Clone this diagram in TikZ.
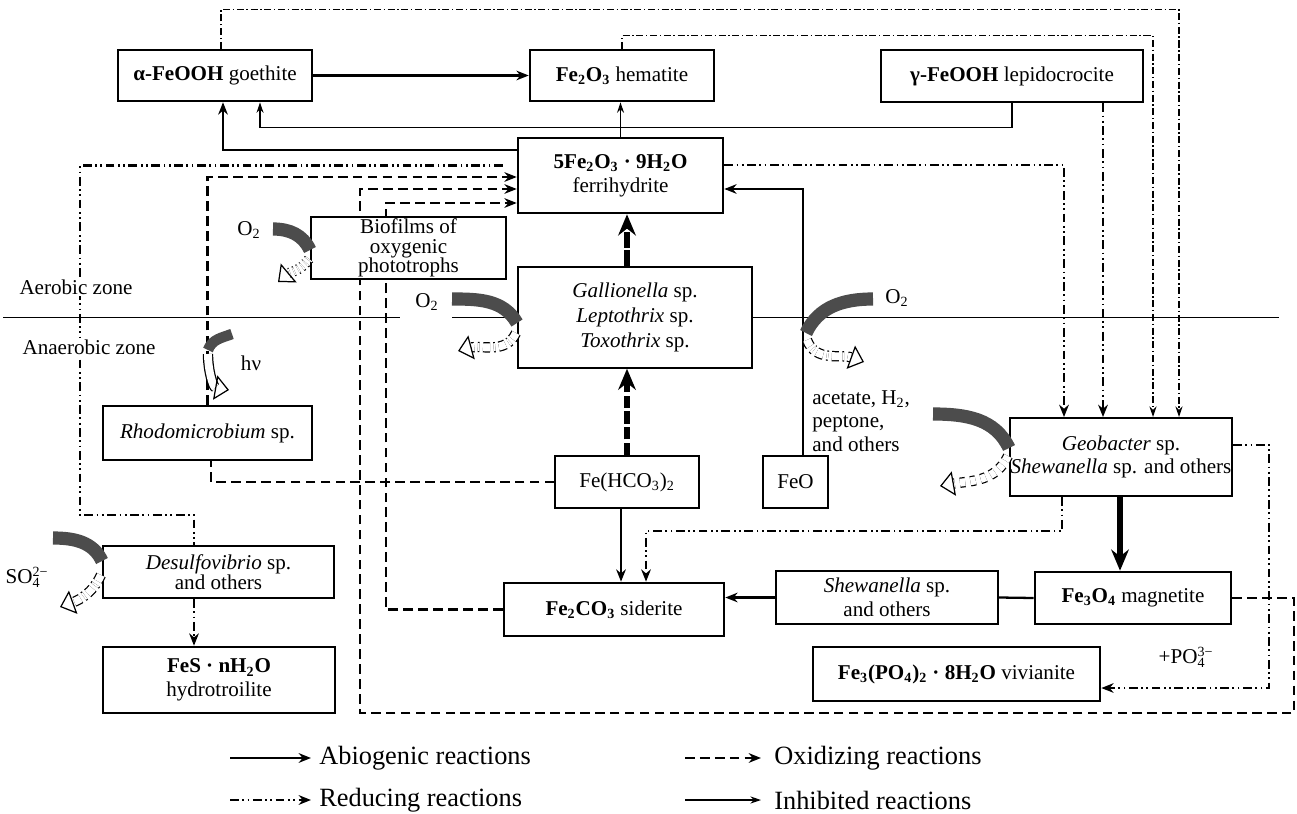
\documentclass[tikz,border=0pt]{standalone}
\usepackage{fontspec}
\setmainfont{Liberation Serif}
\usetikzlibrary{fit}
\usetikzlibrary{calc}
\usetikzlibrary{positioning}
\usetikzlibrary{arrows.meta}
\usetikzlibrary{backgrounds}

\newcommand{\chemion}[2]{\rlap{\textsubscript{#1}}\textsuperscript{#2}}

\begin{document}
\begin{tikzpicture}[
  x=0.02cm, y=-0.02cm,
  orgbox/.style={draw, rectangle, fill=white, inner sep=0pt, line width=1.1pt},
  mineralbox/.style={orgbox, line width=1.5pt},
  plainbox/.style={orgbox, line width=0.8pt},
  every label/.style={align=center, font=\fontsize{12}{13.5}\selectfont},
  arrowtip/.style={-{Stealth[length=7pt,width=5.5pt]}},
  abio/.style={line width=1.3pt, arrowtip},
  oxid/.style={line width=1.4pt, dash pattern=on 5.5pt off 3pt},
  redu/.style={line width=1.3pt, dash pattern=on 5pt off 2pt on 1pt off 2pt on 1pt off 2pt},
  redthin/.style={line width=0.7pt, dash pattern=on 4pt off 1.5pt on 0.8pt off 1.5pt, -{Stealth[length=6pt,width=4pt]}},
  inhib/.style={line width=0.7pt, -{Stealth[length=6pt,width=4pt]}},
  heavy/.style={line width=3pt, -{Stealth[length=12pt,width=10pt]}},
  band/.style={line width=7.5pt, black!70},
  hollow/.style={double, double distance=4.5pt, line width=0.7pt, -{Triangle[open, length=8pt, width=14pt]}},
  zone/.style={font=\fontsize{12}{13.5}\selectfont, fill=white, inner sep=1pt},
  note/.style={font=\fontsize{12}{13.5}\selectfont, inner sep=0pt},
  legtext/.style={font=\fontsize{15}{17}\selectfont, anchor=west, inner sep=0pt},
]
\useasboundingbox (0,0) rectangle (1297,814);

\node (goethite) [mineralbox, fit={(118,50) (312,101)}, label=center:{\textbf{α-FeOOH} goethite}] {};
\node (hematite) [mineralbox, fit={(530,50) (714,101)}, label=center:{\textbf{Fe\textsubscript{2}O\textsubscript{3}} hematite}] {};
\node (lepido) [mineralbox, fit={(881,50) (1143,102)}, label=center:{\textbf{γ-FeOOH} lepidocrocite}] {};
\node (ferri) [mineralbox, fit={(518,138) (723,213)}, label=center:{\textbf{5Fe\textsubscript{2}O\textsubscript{3} · 9H\textsubscript{2}O}\\ferrihydrite}] {};
\node (biofilm) [orgbox, fit={(311,217) (506,279)}, label={[font=\fontsize{12}{11}\selectfont]center:{Biofilms of\\oxygenic\\phototrophs}}] {};
\node (gallio) [orgbox, line width=0.8pt, fit={(518,267) (752,368)}, label={[font=\fontsize{12}{14.2}\selectfont]center:{\textit{Gallionella} sp.\\\textit{Leptothrix} sp.\\\textit{Toxothrix} sp.}}] {};
\node (rhodo) [orgbox, fit={(103,406) (312,460)}, label=center:{\textit{Rhodomicrobium} sp.}] {};
\node (fehco) [plainbox, fit={(555,456) (699,508)}, label=center:{Fe(HCO\textsubscript{3})\textsubscript{2}}] {};
\node (feo) [plainbox, fit={(763,456) (828,508)}, label=center:{FeO}] {};
\node (geo) [orgbox, fit={(1010,418) (1232,496)}, label=center:{\textit{Geobacter} sp.\\\textit{Shewanella} sp. and others}] {};
\node (desulfo) [orgbox, fit={(103,546) (334,598)}, label={[font=\fontsize{12}{11.5}\selectfont]center:{\textit{Desulfovibrio} sp.\\and others}}] {};
\node (siderite) [mineralbox, fit={(504,583) (724,636)}, label=center:{\textbf{Fe\textsubscript{2}CO\textsubscript{3}} siderite}] {};
\node (shewan) [orgbox, fit={(776,571) (998,624)}, label=center:{\textit{Shewanella} sp.\\and others}] {};
\node (magnet) [mineralbox, fit={(1035,572) (1231,624)}, label=center:{\textbf{Fe\textsubscript{3}O\textsubscript{4}} magnetite}] {};
\node (fes) [mineralbox, fit={(103,647) (335,713)}, label=center:{\textbf{FeS · nH\textsubscript{2}O}\\hydrotroilite}] {};
\node (vivian) [mineralbox, fit={(813,647) (1100,701)}, label=center:{\textbf{Fe\textsubscript{3}(PO\textsubscript{4})\textsubscript{2} · 8H\textsubscript{2}O} vivianite}] {};

\node (aer) [zone] at (76,287) {Aerobic zone};
\node (anaer) [zone] at (89,347) {Anaerobic zone};
\node (o2a) [note] at (249,230) {O\textsubscript{2}};
\node (o2b) [note] at (427,302) {O\textsubscript{2}};
\node (o2c) [note] at (897,298) {O\textsubscript{2}};
\node (so4) [note] at (27,577) {SO\chemion{4}{2−}};
\node (hnu) [note] at (251,363) {hν};
\node (donors) [note, align=left, anchor=west] at (812,421) {acetate, H\textsubscript{2},\\peptone,\\and others};
\node (po4) [note] at (1186,657) {+PO\chemion{4}{3−}};

\begin{scope}[on background layer]
\draw[line width=0.5pt] (3,317) -- (400,317) (452,317) -- (1279,317);

\draw[abio] (goethite.east) -- (hematite.west);
\draw[abio]
  ([shift={(0,13)}]ferri.north west) -| ([shift={(8,0)}]goethite.south);
\draw[inhib] (ferri.north) -- (ferri.north |- hematite.south);
\draw[inhib]
  (lepido.south) -- ++(0,24) -| ([shift={(45,0)}]goethite.south);

\draw[redthin]
  ([shift={(6,0)}]goethite.north) -- ++(0,-39) -| ([shift={(58,0)}]geo.north);
\draw[redthin]
  (hematite.north) -- ++(0,-13) -| ([shift={(32,0)}]geo.north);
\draw[redu, arrowtip] ([shift={(91,0)}]lepido.south) -- ([shift={(-18,0)}]geo.north);
\draw[redu, arrowtip]
  ([shift={(0,-10.5)}]ferri.east) -| ([shift={(-57,0)}]geo.north);
\draw[redu]
  ([shift={(-14,-10)}]ferri.west) -| (80,515) -| ([shift={(-24.5,0)}]desulfo.north);
\draw[redu, arrowtip]
  ([shift={(-24.5,0)}]desulfo.south) -- ([shift={(-24.5,0)}]desulfo.south |- fes.north);
\draw[redu, arrowtip]
  ([shift={(-59,0)}]geo.south) |- ([shift={(32,-51)}]siderite.north) -- ([shift={(32,0)}]siderite.north);
\draw[redu, arrowtip]
  ([shift={(0,-12)}]geo.east) -| ([shift={(168,14)}]vivian.east) -- ([shift={(0,14)}]vivian.east);

\draw[oxid, arrowtip] (rhodo.north) |- ([shift={(0,1.5)}]ferri.west);
\draw[oxid] (fehco.west) -| ([shift={(3.5,0)}]rhodo.south);
\draw[oxid, arrowtip]
  (magnet.east) -| (1294,713) -| (360,189) -- ([shift={(0,13.5)}]ferri.west);
\draw[oxid, arrowtip]
  (siderite.west) -| (386,203) -- ([shift={(0,27.5)}]ferri.west);

\draw[heavy, dash pattern=on 9pt off 1.5pt]
  ([shift={(-8,0)}]gallio.north) -- ([shift={(-8,0)}]gallio.north |- ferri.south);
\draw[heavy, dash pattern=on 7pt off 2pt] (fehco.north) -- (fehco.north |- gallio.south);
\draw[heavy] ([shift={(-1,0)}]geo.south) -- ([shift={(-1,0)}]geo.south |- magnet.north);

\draw[abio]
  ([shift={(-6,0)}]fehco.south) -- ([shift={(-6,0)}]fehco.south |- siderite.north);
\draw[abio] ([shift={(7.5,0)}]feo.north) |- ([shift={(0,13.5)}]ferri.east);
\draw[abio, -] (magnet.west) -- (shewan.east);
\draw[abio] (shewan.west) -- (shewan.west -| siderite.east);
\end{scope}

\draw[band] (273,229) to[out=0, in=115] (310,250);
\draw[hollow, dotted] (309,259) to[out=235, in=40] (278,282);
\draw[band] (452,299) to[out=0, in=120] (517,323);
\draw[hollow, dash pattern=on 4pt off 2pt on 1pt off 2pt] (516,333) to[out=245, in=15] (458,351);
\draw[band] (806,333) to[out=65, in=180] (873,299);
\draw[hollow, dash pattern=on 4pt off 2pt on 1pt off 2pt] (807,340) to[out=290, in=160] (864,362);
\draw[band] (933,414) to[out=0, in=115] (1009,448);
\draw[hollow, dashed] (1008,456) to[out=245, in=10] (940,486);
\draw[band] (53,538) to[out=0, in=115] (102,561);
\draw[hollow, dash pattern=on 4pt off 2pt on 1pt off 2pt] (101,575) to[out=245, in=20] (60,607);
\draw[band, line width=6pt] (208,350) to[out=70, in=200] (232,334);
\draw[hollow] (208,354) to[out=270, in=170] (229,390);

\node (legabio) [legtext] at (319,758) {Abiogenic reactions};
\node (legredu) [legtext] at (319,800) {Reducing reactions};
\node (legoxid) [legtext] at (774,758) {Oxidizing reactions};
\node (leginhib) [legtext] at (774,800) {Inhibited reactions};
\draw[abio] ([shift={(-89,0)}]legabio.west) -- ([shift={(-8,0)}]legabio.west);
\draw[redu, arrowtip] ([shift={(-89,0)}]legredu.west) -- ([shift={(-8,0)}]legredu.west);
\draw[oxid, arrowtip] ([shift={(-89,0)}]legoxid.west) -- ([shift={(-13,0)}]legoxid.west);
\draw[inhib] ([shift={(-89,0)}]leginhib.west) -- ([shift={(-13,0)}]leginhib.west);
\end{tikzpicture}
\end{document}
